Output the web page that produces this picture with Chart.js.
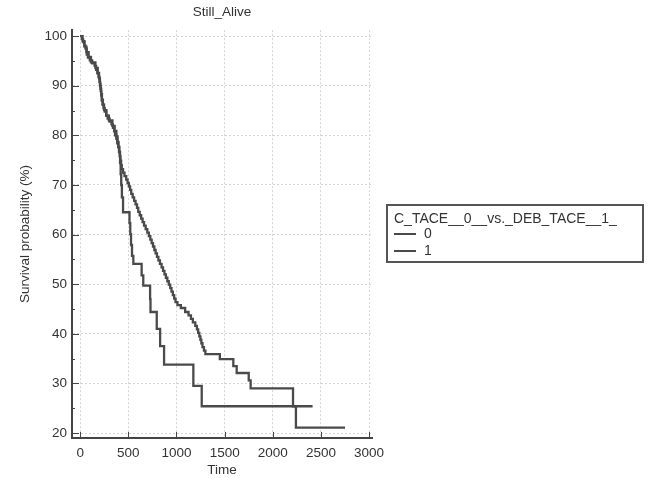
<!DOCTYPE html>
<html>
<head>
<meta charset="utf-8">
<title>Still_Alive</title>
<script src="https://cdn.jsdelivr.net/npm/chart.js@4.4.1/dist/chart.umd.min.js"></script>
<style>
  html, body { margin: 0; padding: 0; background: #fff; }
  #chartBox { width: 650px; height: 478px; }
</style>
</head>
<body>
<div id="chartBox"><canvas id="kmChart" width="650" height="478"></canvas></div>
<script>
// Kaplan-Meier survival, C_TACE (0) vs DEB_TACE (1)
const groupLabels = ['0', '1'];
const legendTitle = 'C_TACE__0__vs._DEB_TACE__1_';

const times0 = [0, 18, 30, 42, 55, 68, 80, 100, 125, 150, 165, 178, 190, 200, 207, 213, 218, 224, 232, 242,
	255, 270, 285, 305, 325, 340, 352, 362, 375, 385, 395, 403, 410, 418, 425, 432, 445, 460, 478, 492,
	505, 518, 530, 545, 560, 575, 590, 603, 618, 633, 648, 663, 680, 697, 713, 728, 742, 756, 770, 783,
	797, 812, 828, 845, 860, 875, 890, 905, 920, 935, 948, 962, 976, 990, 1010, 1045, 1090, 1125, 1150, 1170,
	1195, 1212, 1225, 1237, 1248, 1258, 1270, 1285, 1300, 1450, 1590, 1625, 1750, 1770, 2210, 2240, 2750];
const surv0 = [100, 99.4, 98.8, 98.1, 97.5, 96.3, 95.7, 95.1, 94.5, 94.0, 93.2, 92.5, 91.8, 90.8, 89.9, 88.9, 88.0, 87.0, 86.2, 85.5,
	84.8, 84.0, 83.4, 82.8, 82.2, 81.5, 80.8, 80.0, 79.3, 78.4, 77.6, 76.7, 75.8, 74.9, 74.0, 73.2, 72.5, 71.8, 71.1, 70.4,
	69.7, 69.0, 68.2, 67.5, 66.8, 66.1, 65.4, 64.6, 63.9, 63.2, 62.5, 61.8, 61.1, 60.4, 59.7, 59.0, 58.3, 57.6, 56.9, 56.2,
	55.5, 54.8, 54.1, 53.4, 52.7, 52.0, 51.3, 50.6, 49.9, 49.2, 48.5, 47.8, 47.1, 46.4, 45.8, 45.2, 44.4, 43.7, 43.0, 42.3,
	41.6, 40.9, 40.2, 39.5, 38.8, 38.1, 37.3, 36.6, 35.9, 34.9, 33.5, 32.1, 30.6, 29.0, 25.4, 21.1, 21.1];

const times1 = [0, 25, 45, 65, 88, 112, 158, 182, 196, 205, 211, 218, 226, 236, 248, 272, 298, 335, 358, 376,
	388, 398, 407, 414, 420, 426, 433, 445, 512, 520, 528, 538, 552, 638, 655, 726, 730, 795, 830, 871,
	1175, 1262, 2413];
const surv1 = [100, 99.0, 97.9, 96.8, 95.8, 94.7, 93.6, 92.6, 91.5, 90.4, 89.4, 88.3, 87.2, 86.2, 85.1, 84.0, 83.0, 81.9, 80.9, 79.8,
	78.7, 77.7, 76.6, 74.4, 72.2, 70.0, 67.5, 64.5, 62.3, 60.1, 57.9, 55.7, 54.1, 51.8, 49.7, 47.0, 44.4, 41.0, 37.5, 33.8,
	29.5, 25.4, 25.4];

const xTicks = [0, 500, 1000, 1500, 2000, 2500, 3000];
const yTicks = [20, 30, 40, 50, 60, 70, 80, 90, 100];

const lineColor = '#4a4a4a';
const inkColor = '#333';

Chart.defaults.font.family = "'Liberation Sans', Arial, sans-serif";
Chart.defaults.color = inkColor;

function toPoints(ts, vs) {
	return ts.map((t, i) => ({ x: t, y: vs[i] }));
}

// short inward ticks on both axes, minor ones on y between majors
const axisTicks = {
	id: 'axisTicks',
	afterDraw(chart) {
		const { ctx, chartArea, scales: { x, y } } = chart;
		ctx.save();
		ctx.strokeStyle = '#444';
		ctx.lineWidth = 1;
		ctx.beginPath();
		x.ticks.forEach(t => {
			const px = Math.round(x.getPixelForValue(t.value)) + 0.5;
			ctx.moveTo(px, chartArea.bottom);
			ctx.lineTo(px, chartArea.bottom - 6);
		});
		y.ticks.forEach((t, i) => {
			const py = Math.round(y.getPixelForValue(t.value)) + 0.5;
			ctx.moveTo(chartArea.left, py);
			ctx.lineTo(chartArea.left + 7, py);
			if (i > 0) {
				const mid = (t.value + y.ticks[i - 1].value) / 2;
				const pm = Math.round(y.getPixelForValue(mid)) + 0.5;
				ctx.moveTo(chartArea.left, pm);
				ctx.lineTo(chartArea.left + 3, pm);
			}
		});
		ctx.stroke();
		ctx.restore();
	}
};

// framed legend to the right of the plot
const legendBox = {
	id: 'legendBox',
	afterDraw(chart) {
		const { ctx, chartArea } = chart;
		const bx = chartArea.right + 15;
		const by = 205;
		const bw = 256;
		const bh = 57;
		ctx.save();
		ctx.strokeStyle = '#555';
		ctx.lineWidth = 2;
		ctx.strokeRect(bx, by, bw, bh);
		ctx.fillStyle = inkColor;
		ctx.font = "14px 'Liberation Sans', Arial, sans-serif";
		ctx.textBaseline = 'middle';
		ctx.fillText(legendTitle, bx + 7, by + 14);
		chart.data.datasets.forEach((ds, i) => {
			const ly = by + 29 + i * 17;
			ctx.strokeStyle = ds.borderColor;
			ctx.lineWidth = 2;
			ctx.beginPath();
			ctx.moveTo(bx + 7, ly);
			ctx.lineTo(bx + 29, ly);
			ctx.stroke();
			ctx.fillText(ds.label, bx + 37, ly);
		});
		ctx.restore();
	}
};

const plainNumber = v => String(v);

const ctx = document.getElementById('kmChart').getContext('2d');
new Chart(ctx, {
	type: 'line',
	data: {
		datasets: [
			{
				label: groupLabels[0],
				data: toPoints(times0, surv0),
				borderColor: lineColor,
				borderWidth: 2.3,
				pointRadius: 0,
				stepped: true,
				fill: false
			},
			{
				label: groupLabels[1],
				data: toPoints(times1, surv1),
				borderColor: lineColor,
				borderWidth: 2.3,
				pointRadius: 0,
				stepped: true,
				fill: false
			}
		]
	},
	options: {
		responsive: false,
		animation: false,
		layout: { padding: { left: 13, right: 278, top: 0, bottom: 0 } },
		scales: {
			x: {
				type: 'linear',
				min: -85,
				max: 3030,
				afterBuildTicks: s => { s.ticks = xTicks.map(v => ({ value: v })); },
				afterFit: s => { s.height = 40; },
				grid: { color: '#d4d4d4', lineWidth: 1, drawTicks: false },
				border: { display: true, color: '#444', width: 2, dash: [2, 2] },
				ticks: { padding: 7, font: { size: 13.5 }, color: inkColor, maxRotation: 0, callback: plainNumber },
				title: { display: true, text: 'Time', font: { size: 13.5 }, color: inkColor, padding: { top: 2, bottom: 0 } }
			},
			y: {
				type: 'linear',
				min: 19,
				max: 101.2,
				afterBuildTicks: s => { s.ticks = yTicks.map(v => ({ value: v })); },
				afterFit: s => { s.width = 59; },
				grid: { color: '#d4d4d4', lineWidth: 1, drawTicks: false },
				border: { display: true, color: '#444', width: 2, dash: [2, 2] },
				ticks: { padding: 5, font: { size: 13.5 }, color: inkColor, callback: plainNumber },
				title: { display: true, text: 'Survival probability (%)', font: { size: 13.5 }, color: inkColor, padding: { top: 4, bottom: 4 } }
			}
		},
		plugins: {
			legend: { display: false },
			tooltip: { enabled: false },
			title: {
				display: true,
				text: 'Still_Alive',
				fullSize: false,
				font: { size: 13.5, weight: 'normal' },
				color: inkColor,
				padding: { top: 4, bottom: 10 }
			}
		}
	},
	plugins: [axisTicks, legendBox]
});
</script>
</body>
</html>
